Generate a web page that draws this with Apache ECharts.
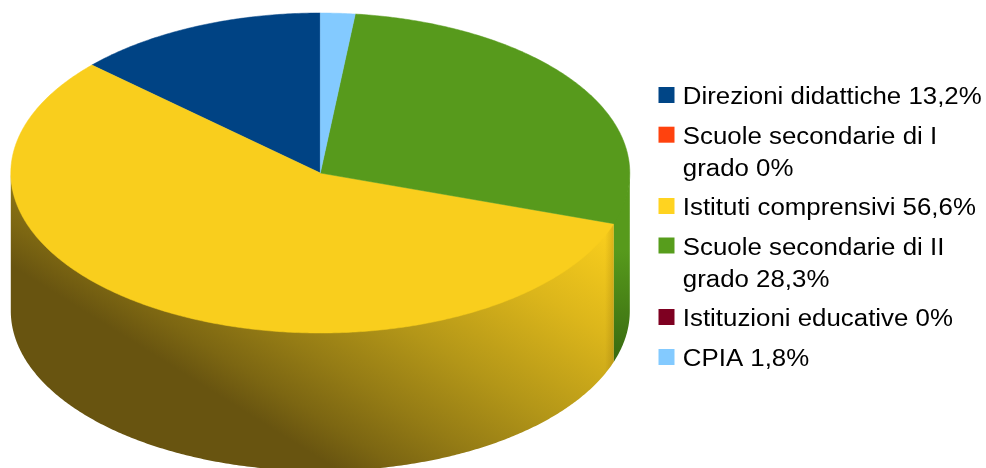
<!DOCTYPE html>
<html>
<head>
<meta charset="utf-8">
<style>html,body{margin:0;padding:0;background:#fff;overflow:hidden}#c{width:986px;height:468px}</style>
<script src="https://cdn.jsdelivr.net/npm/echarts@6/dist/echarts.min.js"></script>
</head>
<body>
<div id="c"></div>
<script>
const categories = ['Direzioni didattiche','Scuole secondarie di I grado','Istituti comprensivi','Scuole secondarie di II grado','Istituzioni educative','CPIA'];
const values = [13.2, 0, 56.6, 28.3, 0, 1.8];
const legendLines = [
  'Direzioni didattiche 13,2%',
  'Scuole secondarie di I\ngrado 0%',
  'Istituti comprensivi 56,6%',
  'Scuole secondarie di II\ngrado 28,3%',
  'Istituzioni educative 0%',
  'CPIA 1,8%'
];
const legendColors = ['#004586','#ff420e','#ffd320','#579d1c','#7e0021','#83caff'];
const topColors = ['#004384','#ff420e','#f9ce1d','#579a1c','#7e0021','#83caff'];
const legendCenters = [95,134.7,206,245.5,317,357];

const cx = 320.3, cy = 173, rx = 309.5, ry = 160, depth = 138;
const total = values.reduce((a,b)=>a+b,0);
const pt = (deg, dy) => { const t = deg*Math.PI/180; return [cx + rx*Math.sin(t), cy - ry*Math.cos(t) + (dy||0)]; };
function arc(a0, a1, dy){ const n = Math.max(2, Math.ceil(Math.abs(a1-a0))*2), r = []; for(let i=0;i<=n;i++) r.push(pt(a0+(a1-a0)*i/n, dy)); return r; }
const G = echarts.graphic.LinearGradient;
const wallFill = {
  2: new G(130,340,313,47,[{offset:0,color:'#685410'},{offset:0.1,color:'#7c6612'},{offset:0.25,color:'#957c15'},{offset:0.45,color:'#b39618'},{offset:0.74,color:'#dcb61b'},{offset:1,color:'#f9ce1d'}],true),
  3: new G(620,250,620,365,[{offset:0,color:'#579a1c'},{offset:1,color:'#376810'}],true)
};
const edgeShade = new G(605,0,612.5,0,[{offset:0,color:'rgba(90,60,0,0)'},{offset:1,color:'rgba(90,60,0,0.16)'}],true);

let acc = 0;
const series = categories.map((name,i)=>{
  // slices run counter-clockwise from 12 o'clock; angles here are clockwise from 12
  const a1 = 360 - acc/total*360; acc += values[i]; const a0 = 360 - acc/total*360;
  return {
    type:'custom', name, coordinateSystem:'none', silent:true,
    itemStyle:{color:legendColors[i]},
    data:[[values[i]]],
    renderItem(){
      if(values[i]<=0) return null;
      const children = [];
      const w0 = Math.max(a0,90), w1 = Math.min(a1,270);
      if(w1>w0){
        // the wall starts slightly under the top face so no seam shows between them
        const pts = arc(w0,w1,-2).concat(arc(w1,w0,depth));
        children.push({type:'polygon',shape:{points:pts},style:{fill:wallFill[i]||topColors[i]}});
        if(i===2) children.push({type:'polygon',shape:{points:pts},style:{fill:edgeShade}});
      }
      children.push({type:'polygon',shape:{points:[[cx,cy]].concat(arc(a0,a1,0))},style:{fill:topColors[i],stroke:topColors[i],lineWidth:0.5}});
      return {type:'group',children};
    }
  };
});
const legend = categories.map((name,i)=>{
  const multi = legendLines[i].includes('\n');
  return {
    data:[name], selectedMode:false, orient:'vertical', left:658.5, padding:0,
    top: legendCenters[i] - (multi?48:16),
    itemWidth:16, itemHeight:16, itemGap:0, icon:'rect',
    formatter:()=> (multi?'\n':'')+legendLines[i],
    textStyle:{fontFamily:'Liberation Sans',fontSize:23.5,color:'#000',lineHeight:32,padding:[0,0,0,3]}
  };
});
const chart = echarts.init(document.getElementById('c'),null,{renderer:'canvas'});
chart.setOption({animation:false,backgroundColor:'#fff',legend,series});
// the reference's lettering is wider than the font's natural proportions
chart.getZr().storage.getRoots().forEach(root=>root.traverse&&root.traverse(el=>{
  if(el.type==='text'){ el.originX = el.style.x||0; el.scaleX = 1.1; el.y += 3; el.markRedraw(); }
}));
</script>
</body>
</html>
